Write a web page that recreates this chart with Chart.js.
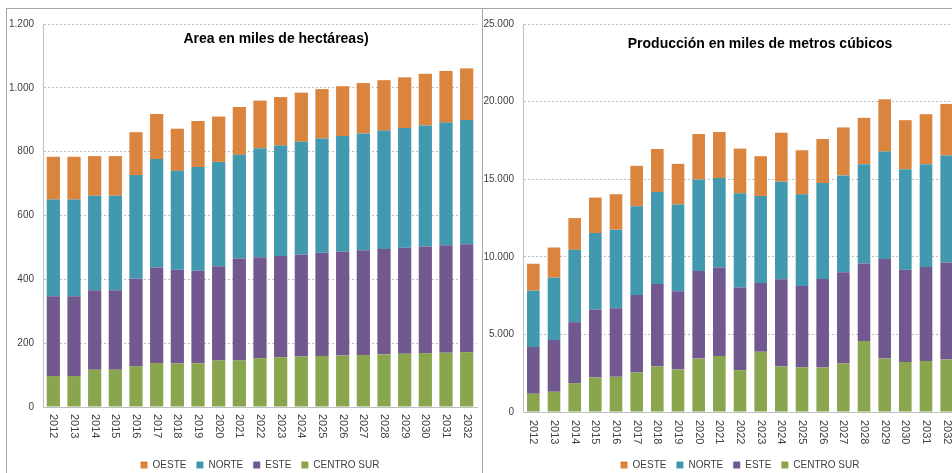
<!DOCTYPE html>
<html>
<head>
<meta charset="utf-8">
<script src="https://cdn.jsdelivr.net/npm/chart.js@4"></script>
<style>
  body { margin: 0; background: #fff; overflow: hidden; width: 952px; height: 473px; position: relative; }
  .frame { position: absolute; box-sizing: border-box; border: 1px solid #a6a6a6; }
  #frameL { left: 6px; top: 8px; width: 477px; height: 500px; }
  #frameR { left: 482px; top: 8px; width: 500px; height: 500px; border-left: none; }
  canvas { position: absolute; }
  #areaChart { left: 7px; top: 9px; }
  #prodChart { left: 483px; top: 9px; }
</style>
</head>
<body>
<div class="frame" id="frameL"></div>
<div class="frame" id="frameR"></div>
<canvas id="areaChart" width="474" height="480"></canvas>
<canvas id="prodChart" width="480" height="480"></canvas>
<script>
const years = ["2012", "2013", "2014", "2015", "2016", "2017", "2018", "2019", "2020", "2021", "2022",
  "2023", "2024", "2025", "2026", "2027", "2028", "2029", "2030", "2031", "2032"];

// Area (miles de hectareas)
const areaCentroSur = [97, 97, 117, 117, 128, 138, 137, 137, 146, 146, 153, 156, 158, 160, 161, 163, 165, 167, 169, 170, 172];
const areaEste = [250, 250, 249, 249, 274, 299, 293, 290, 295, 319, 316, 317, 320, 323, 326, 328, 330, 332, 334, 337, 338];
const areaNorte = [303, 303, 296, 296, 325, 340, 310, 325, 327, 325, 342, 346, 353, 358, 362, 366, 371, 375, 379, 384, 389];
const areaOeste = [134, 134, 124, 124, 134, 141, 132, 144, 142, 150, 149, 152, 154, 155, 156, 158, 158, 159, 162, 162, 162];

// Produccion (miles de m3)
const prodCentroSur = [1175, 1303, 1859, 2222, 2265, 2543, 2928, 2735, 3440, 3611, 2693, 3889, 2928, 2885, 2864, 3120, 4573, 3440, 3227, 3291, 3376];
const prodEste = [3013, 3334, 3932, 4360, 4424, 5001, 5321, 5044, 5642, 5706, 5321, 4424, 5620, 5236, 5705, 5877, 5001, 6412, 5941, 6048, 6262];
const prodNorte = [3633, 4018, 4659, 4952, 5058, 5717, 5929, 5589, 5906, 5756, 6079, 5609, 6291, 5908, 6184, 6247, 6395, 6927, 6481, 6630, 6885];
const prodOeste = [1731, 1945, 2044, 2281, 2282, 2601, 2771, 2622, 2921, 2964, 2878, 2559, 3155, 2835, 2836, 3091, 2984, 3368, 3155, 3219, 3326];

const seriesNames = ["CENTRO SUR", "ESTE", "NORTE", "OESTE"];
const colors = ["#89a54e", "#71588f", "#4198af", "#db843d"];

const FONT = "'Liberation Sans', Arial, sans-serif";
const TEXT = "#404040";

function fmt(v) {
  return String(v).replace(/\B(?=(\d{3})+(?!\d))/g, ".");
}

// draws the title inside the plot and the year labels turned clockwise
const extraText = {
  id: "extraText",
  afterDraw(chart, args, opts) {
    const ctx = chart.ctx;
    const x = chart.scales.x;
    ctx.save();
    ctx.fillStyle = "#000";
    ctx.font = "bold 14px " + FONT;
    ctx.textAlign = "center";
    ctx.textBaseline = "alphabetic";
    ctx.fillText(opts.title, opts.titleX, opts.titleY);

    ctx.fillStyle = TEXT;
    ctx.font = "11px " + FONT;
    ctx.textAlign = "left";
    ctx.textBaseline = "middle";
    chart.data.labels.forEach((lab, i) => {
      ctx.save();
      ctx.translate(x.getPixelForValue(i), x.top + opts.labelGap);
      ctx.rotate(Math.PI / 2);
      ctx.fillText(lab, 0, 0);
      ctx.restore();
    });
    ctx.restore();
  },
};

function makeChart(id, values, yMax, step, cfg) {
  const datasets = values.map((data, i) => ({
    label: seriesNames[i],
    data: data,
    backgroundColor: colors[i],
    borderWidth: 0,
    categoryPercentage: 1,
    barPercentage: cfg.barPct,
  }));

  return new Chart(document.getElementById(id), {
    type: "bar",
    data: { labels: years, datasets: datasets },
    plugins: [extraText],
    options: {
      responsive: false,
      animation: false,
      devicePixelRatio: 1,
      layout: { padding: { top: 12, right: cfg.padRight, bottom: 9, left: 0 } },
      scales: {
        x: {
          stacked: true,
          grid: { display: false },
          border: { display: true, color: "#bfbfbf" },
          ticks: { display: false },
          afterFit: (s) => { s.height = cfg.xHeight; },
        },
        y: {
          stacked: true,
          min: 0,
          max: yMax,
          ticks: {
            stepSize: step,
            padding: 9,
            color: TEXT,
            font: { family: FONT, size: 10 },
            callback: (v) => fmt(v),
          },
          grid: { color: "#bdbdbd", drawTicks: false },
          border: { display: true, color: "#bfbfbf", dash: [2, 2] },
          afterFit: (s) => { s.width = cfg.yWidth; },
        },
      },
      plugins: {
        legend: {
          position: "bottom",
          fullSize: false,
          reverse: true,
          labels: {
            boxWidth: 7,
            boxHeight: 7,
            padding: 10,
            color: TEXT,
            font: { family: FONT, size: 10 },
          },
        },
        tooltip: { enabled: false },
        extraText: {
          title: cfg.title,
          titleX: cfg.titleX,
          titleY: cfg.titleY,
          labelGap: cfg.labelGap,
        },
      },
    },
  });
}

makeChart("areaChart", [areaCentroSur, areaEste, areaNorte, areaOeste], 1200, 200, {
  title: "Area en miles de hectáreas)",
  titleX: 269, titleY: 34,
  yWidth: 36, xHeight: 43, padRight: 4, barPct: 0.64, labelGap: 7,
});

makeChart("prodChart", [prodCentroSur, prodEste, prodNorte, prodOeste], 25000, 5000, {
  title: "Producción en miles de metros cúbicos",
  titleX: 277, titleY: 39,
  yWidth: 40, xHeight: 38, padRight: 6, barPct: 0.61, labelGap: 8,
});
</script>
</body>
</html>
